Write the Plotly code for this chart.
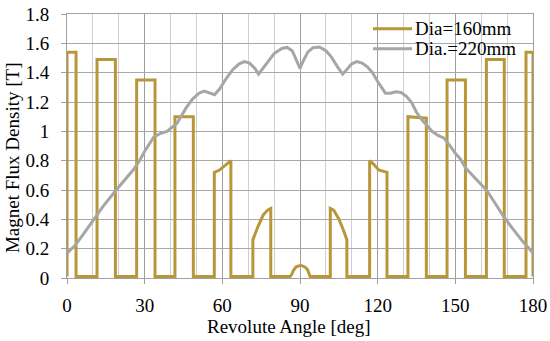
import plotly.graph_objects as go

# Dia=160mm (angle in deg, flux in T)
d160_angle = [0, 0, 3.5, 3.5, 11.6, 11.6, 18.7, 18.7, 26.9, 26.9, 34.0, 34.0,
              41.7, 41.7, 48.8, 48.8, 56.9, 56.9, 58.9, 60.5, 63.3, 63.3,
              71.8, 71.8, 73.6, 75.8, 77.5, 78.7, 78.7, 86.2, 86.8, 87.5, 88.5,
              90.3, 92.0, 92.9, 93.5, 93.9, 101.7, 101.7, 103.0, 104.9, 106.8,
              108.1, 108.1, 116.9, 116.9, 118.4, 120.4, 123.6, 123.6, 131.7,
              131.7, 138.8, 138.8, 146.8, 146.8, 153.9, 153.9, 162.0, 162.0,
              168.9, 168.9, 177.3, 177.3, 180.0, 180.0]
d160_flux = [0.01, 1.54, 1.54, 0.01, 0.01, 1.49, 1.49, 0.01, 0.01, 1.35, 1.35, 0.01,
             0.01, 1.10, 1.10, 0.01, 0.01, 0.72, 0.736, 0.76, 0.80, 0.01,
             0.01, 0.26, 0.344, 0.43, 0.463, 0.474, 0.01, 0.01, 0.025, 0.052, 0.076,
             0.087, 0.074, 0.057, 0.03, 0.01, 0.01, 0.474, 0.463, 0.406, 0.326,
             0.26, 0.01, 0.01, 0.80, 0.777, 0.736, 0.72, 0.01, 0.01,
             1.10, 1.09, 0.01, 0.01, 1.35, 1.35, 0.01, 0.01, 1.49,
             1.49, 0.01, 0.01, 1.54, 1.54, 0.01]

# Dia.=220mm
d220_angle = [0, 3, 6, 10, 14, 19, 22, 25.7, 28, 30.2, 33.5, 36, 38.6, 40.5, 42.5,
              44, 46, 48.5, 51, 53, 55, 57, 59, 61.5, 64, 66.5, 68.5, 70.5, 72.5,
              74, 77, 80, 83, 85, 87, 89, 90, 91, 93, 95, 97.5, 100, 102, 104.5,
              106.5, 108, 110, 112, 114, 116, 118, 120, 122, 123, 125, 127, 129,
              131, 133, 135, 137, 139, 141, 143.5, 145.5, 148, 150, 152, 154,
              157.7, 162, 165, 168.6, 172, 176, 180]
d220_flux = [0.17, 0.22, 0.29, 0.39, 0.49, 0.60, 0.66, 0.74, 0.80, 0.87, 0.96, 0.985,
             1.0, 1.03, 1.055, 1.10, 1.16, 1.22, 1.26, 1.275, 1.265, 1.25, 1.29,
             1.36, 1.42, 1.46, 1.475, 1.465, 1.43, 1.39, 1.46, 1.53, 1.565, 1.572,
             1.55, 1.47, 1.43, 1.47, 1.54, 1.57, 1.575, 1.55, 1.51, 1.44, 1.39,
             1.42, 1.46, 1.475, 1.465, 1.44, 1.40, 1.34, 1.28, 1.26, 1.26, 1.27,
             1.265, 1.24, 1.20, 1.13, 1.08, 1.04, 1.0, 0.97, 0.955, 0.90, 0.85,
             0.81, 0.75, 0.68, 0.60, 0.52, 0.42, 0.34, 0.25, 0.17]

series_names = ["Dia=160mm", "Dia.=220mm"]
x_ticks = [0, 30, 60, 90, 120, 150, 180]
y_ticks = [0, 0.2, 0.4, 0.6, 0.8, 1.0, 1.2, 1.4, 1.6, 1.8]
y_tick_labels = ["0", "0.2", "0.4", "0.6", "0.8", "1", "1.2", "1.4", "1.6", "1.8"]

FONT = "Liberation Serif, Times New Roman, Times, serif"
FS = 19
GOLD = "#B8973A"
GRAY = "#A6A6A6"
COLORS = [GOLD, GRAY]
tfont = dict(family=FONT, size=FS, color="black")

# plot-area geometry in pixels (for placing titles / legend in paper units)
L, R, T, B = 67, 533, 14.3, 277.7
def px(xp):
    return (xp - L) / (R - L)
def py(yp):
    return (B - yp) / (B - T)

fig = go.Figure()
fig.add_trace(go.Scatter(x=d160_angle, y=d160_flux, mode="lines", name=series_names[0],
                         line=dict(color=GOLD, width=3)))
fig.add_trace(go.Scatter(x=d220_angle, y=d220_flux, mode="lines", name=series_names[1],
                         line=dict(color=GRAY, width=3)))

shapes = [dict(type="rect", xref="paper", yref="paper", layer="between",
               x0=px(367), x1=px(526), y0=py(57), y1=py(17),
               fillcolor="white", line=dict(width=0))]
annotations = [
    dict(text="Revolute Angle [deg]", xref="paper", yref="paper",
         x=px(288.7), y=py(326), xanchor="center", yanchor="middle",
         showarrow=False, font=tfont),
    dict(text="Magnet Flux Density [T]", xref="paper", yref="paper",
         x=px(12), y=py(158), textangle=-90, xanchor="center", yanchor="middle",
         showarrow=False, font=tfont),
]
for i, (nm, col) in enumerate(zip(series_names, COLORS)):
    yy = 29 + 20 * i
    shapes.append(dict(type="line", xref="paper", yref="paper", layer="above",
                       x0=px(373), x1=px(412), y0=py(yy), y1=py(yy),
                       line=dict(color=col, width=3)))
    annotations.append(dict(text=nm, xref="paper", yref="paper", x=px(413), y=py(yy),
                            xanchor="left", yanchor="middle", showarrow=False,
                            font=tfont))

fig.update_layout(
    width=550, height=341,
    margin=dict(l=67, r=17, t=14, b=63),
    paper_bgcolor="white", plot_bgcolor="white",
    font=tfont,
    showlegend=False,
    xaxis=dict(range=[0, 180], tickvals=x_ticks, showgrid=True, tickfont=tfont,
               gridcolor="#9E9E9E", gridwidth=1,
               minor=dict(dtick=10, showgrid=True, gridcolor="#CFCFCF", gridwidth=1),
               showline=True, mirror=True, linecolor="#A0A0A0", linewidth=1,
               ticks="outside", ticklen=5, tickcolor="#A0A0A0",
               ticklabelstandoff=5, zeroline=False, automargin=False),
    yaxis=dict(range=[0, 1.8], tickvals=y_ticks, ticktext=y_tick_labels, tickfont=tfont,
               showgrid=True, gridcolor="#A8A8A8", gridwidth=1,
               showline=True, mirror=True, linecolor="#A0A0A0", linewidth=1,
               ticks="outside", ticklen=5, tickcolor="#A0A0A0",
               ticklabelstandoff=8, zeroline=False, automargin=False),
    shapes=shapes,
    annotations=annotations,
)

fig.write_html("out.html", config={"displayModeBar": False},
               post_script="document.body.style.margin='0';")
